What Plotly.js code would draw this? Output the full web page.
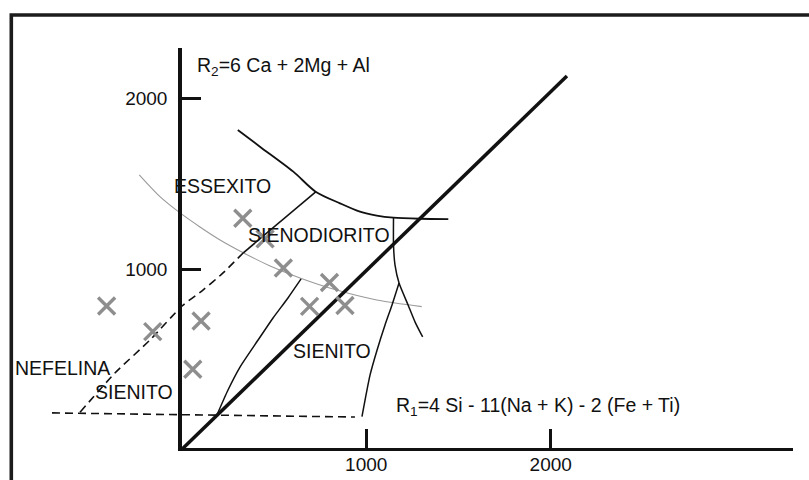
<!DOCTYPE html>
<html>
<head>
<meta charset="utf-8">
<script src="https://cdn.plot.ly/plotly-3.0.1.min.js"></script>
<style>
  html, body { margin: 0; padding: 0; background: #fff; }
  #chart { width: 809px; height: 480px; }
</style>
</head>
<body>
<div id="chart"></div>
<script>
// R1-R2 multicationic classification diagram (De la Roche), values in R1 / R2 units.

// Axis ticks
const xTickVals = [1000, 2000];
const yTickVals = [1000, 2000];

// Main diagonal boundary from the origin
const diagR1 = [0, 2088];
const diagR2 = [-54, 2129];

// Upper curved boundary
const upperR1 = [304, 424, 605, 726, 858, 966, 1057, 1147, 1292, 1445];
const upperR2 = [1814, 1716, 1570, 1453, 1385, 1336, 1313, 1301, 1295, 1293];

// Essexite / syenodiorite divide (solid part)
const divideR1 = [334, 728];
const divideR2 = [1096, 1453];

// Nepheline-syenite limit (dashed)
const nephR1 = [-551, -362, -172, 2, 115, 224, 334];
const nephR2 = [164, 393, 586, 785, 878, 978, 1096];
const baseR1 = [-703, 939];
const baseR2 = [160, 136];

// Right-hand boundary below the upper curve
const rightR1 = [1148, 1148, 1156, 1178, 1227, 1265, 1306];
const rightR2 = [1299, 1141, 1025, 919, 791, 691, 604];

// Syenite field, right limit
const syenRightR1 = [1178, 1140, 1102, 1059, 1021, 999, 977];
const syenRightR2 = [919, 791, 674, 528, 382, 265, 138];

// Syenite field, left limit
const syenLeftR1 = [647, 576, 495, 414, 316, 251, 191];
const syenLeftR2 = [943, 832, 715, 586, 428, 294, 148];

// Thin grey reference curve
const greyR1 = [-230, -118, -9, 99, 208, 334, 479, 641, 840, 1057, 1301];
const greyR2 = [1551, 1424, 1329, 1247, 1171, 1096, 1019, 949, 878, 820, 781];

// Samples
const sampleR1 = [-407, -157, 105, 60, 331, 452, 551, 801, 693, 885];
const sampleR2 = [785, 635, 697, 415, 1298, 1177, 1007, 922, 783, 788];

// ---- geometry of the page ----
const W = 809, H = 480;
const SX = 0.1845, OX = 181.7;   // px per unit and px of R1 = 0
const SY = 0.1711, OY = 440.3;   // px per unit and px (from top) of R2 = 0
const toX = px => (px - OX) / SX;
const toY = py => (OY - py) / SY;

// axis box (pixels)
const boxL = 181.75, boxR = 793, boxT = 48, boxB = 447.75;

const INK = '#111111';
const FONT = 'Liberation Sans, Arial, Helvetica, sans-serif';

function line(x, y, opts) {
  return Object.assign({
    x: x, y: y, type: 'scatter', mode: 'lines',
    hoverinfo: 'skip', showlegend: false
  }, opts);
}

const traces = [
  line(greyR1, greyR2, {line: {color: '#9a9a9a', width: 1.1, shape: 'spline', smoothing: 0.8}}),
  line(upperR1, upperR2, {line: {color: INK, width: 1.8, shape: 'spline', smoothing: 0.8}}),
  line(divideR1, divideR2, {line: {color: INK, width: 1.6}}),
  line(nephR1, nephR2, {line: {color: INK, width: 1.6, dash: '8px,5px', shape: 'spline', smoothing: 0.6}}),
  line(baseR1, baseR2, {line: {color: INK, width: 1.6, dash: '8px,5px'}}),
  line(rightR1, rightR2, {line: {color: INK, width: 1.5, shape: 'spline', smoothing: 0.6}}),
  line(syenRightR1, syenRightR2, {line: {color: INK, width: 1.5, shape: 'spline', smoothing: 0.6}}),
  line(syenLeftR1, syenLeftR2, {line: {color: INK, width: 1.5, shape: 'spline', smoothing: 0.6}}),
  line(diagR1, diagR2, {line: {color: INK, width: 3.5}}),
  {
    x: sampleR1, y: sampleR2, type: 'scatter', mode: 'markers',
    hoverinfo: 'skip', showlegend: false,
    marker: {symbol: 'x-thin-open', size: 17, color: '#8e8e8e',
             line: {color: '#8e8e8e', width: 3.4}}
  },
  // axis frame subplot
  {x: [], y: [], xaxis: 'x2', yaxis: 'y2', type: 'scatter', mode: 'lines',
   hoverinfo: 'skip', showlegend: false}
];

const axisStyle = {
  showline: true, linewidth: 3.5, linecolor: INK,
  ticks: 'inside', ticklen: 19, tickwidth: 3, tickcolor: INK,
  showgrid: false, zeroline: false, fixedrange: true,
  tickfont: {family: FONT, size: 19, color: INK}
};

function label(text, x, y, anchor) {
  return {
    text: text, x: x, y: y, xref: 'x', yref: 'y',
    xanchor: anchor || 'center', yanchor: 'middle', showarrow: false,
    font: {family: FONT, size: 19.5, color: INK}
  };
}

const layout = {
  width: W, height: H,
  margin: {l: 0, r: 0, t: 0, b: 0},
  paper_bgcolor: '#ffffff', plot_bgcolor: 'rgba(0,0,0,0)',
  showlegend: false,
  xaxis: {domain: [0, 1], range: [toX(0), toX(W)], visible: false, fixedrange: true},
  yaxis: {domain: [0, 1], range: [toY(H), toY(0)], visible: false, fixedrange: true},
  xaxis2: Object.assign({}, axisStyle, {
    anchor: 'y2', domain: [boxL / W, boxR / W],
    range: [toX(boxL), toX(boxR)], tickvals: xTickVals,
    ticklabelstandoff: -3
  }),
  yaxis2: Object.assign({}, axisStyle, {
    anchor: 'x2', domain: [(H - boxB) / H, (H - boxT) / H],
    range: [toY(boxB), toY(boxT)], tickvals: yTickVals,
    ticklabelstandoff: 7
  }),
  shapes: [{
    type: 'rect', xref: 'paper', yref: 'paper',
    x0: 11.3 / W, x1: 1.2, y0: -0.2, y1: 1 - 15 / H,
    line: {color: '#1c1c1c', width: 3.6}, fillcolor: 'rgba(0,0,0,0)', layer: 'below'
  }],
  annotations: [
    label('R<sub>2</sub>=6 Ca + 2Mg + Al', 70, 2182, 'left'),
    label('R<sub>1</sub>=4 Si - 11(Na + K) - 2 (Fe + Ti)', 1150, 195, 'left'),
    label('ESSEXITO', 221, 1486),
    label('SIENODIORITO', 744, 1200),
    label('SIENITO', 815, 522),
    label('NEFELINA', -646, 423),
    label('SIENITO', -259, 284)
  ]
};

Plotly.newPlot('chart', traces, layout, {displayModeBar: false, staticPlot: true});
</script>
</body>
</html>
